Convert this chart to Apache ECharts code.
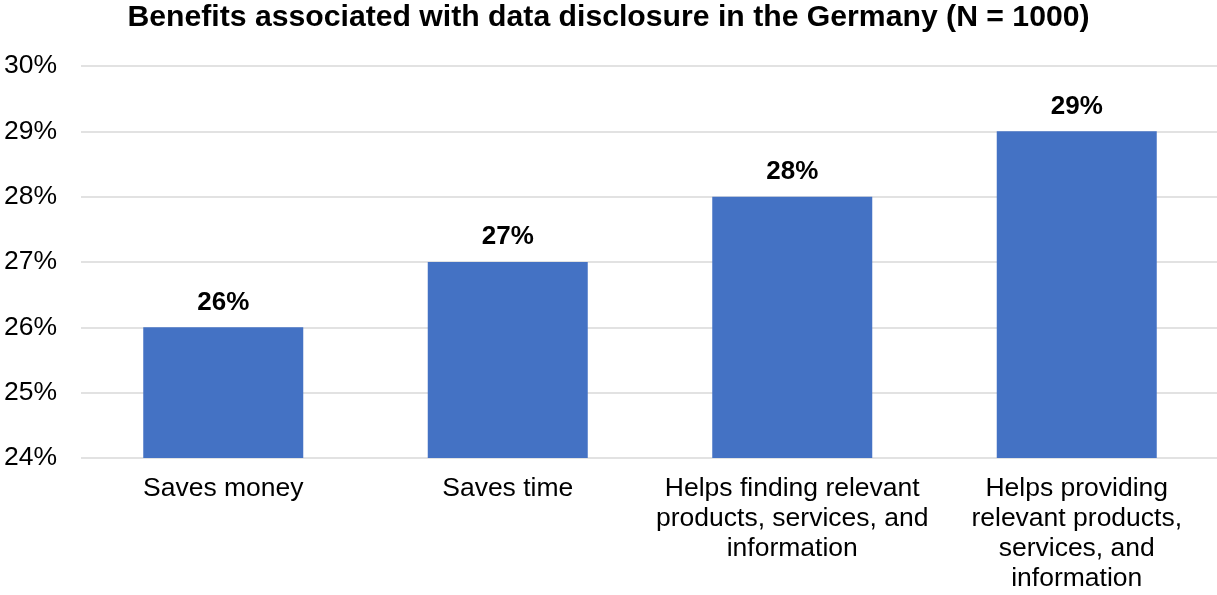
<!DOCTYPE html>
<html>
<head>
<meta charset="utf-8">
<title>Benefits associated with data disclosure</title>
<script src="https://cdn.jsdelivr.net/npm/echarts@6/dist/echarts.min.js"></script>
<style>
  html, body { margin: 0; padding: 0; background: #fff; }
  #chart { width: 1217px; height: 595px; }
</style>
</head>
<body>
<div id="chart"></div>
<script>
// Survey benefits, share of respondents (%)
const categories = [
  'Saves money',
  'Saves time',
  'Helps finding relevant\nproducts, services, and\ninformation',
  'Helps providing\nrelevant products,\nservices, and\ninformation'
];
const shares = [26, 27, 28, 29];
const yTicks = { min: 24, max: 30, interval: 1 };

const FONT = '"Liberation Sans", Arial, sans-serif';

const chart = echarts.init(document.getElementById('chart'), null, { renderer: 'canvas' });

chart.setOption({
  animation: false,
  backgroundColor: '#ffffff',
  title: {
    text: 'Benefits associated with data disclosure in the Germany (N = 1000)',
    left: 'center',
    top: 3,
    padding: [0, 0, 0, 0],
    textStyle: { fontFamily: FONT, fontSize: 30.2, fontWeight: 'bold', color: '#000' }
  },
  grid: {
    left: 81, top: 66, width: 1138, height: 392,
    containLabel: false,
    outerBoundsMode: 'none'
  },
  xAxis: {
    type: 'category',
    data: categories,
    axisLine: { show: false },
    axisTick: { show: false },
    axisLabel: {
      interval: 0,
      margin: 16,
      fontFamily: FONT,
      fontSize: 26.5,
      lineHeight: 30,
      color: '#000',
      align: 'center'
    }
  },
  yAxis: {
    type: 'value',
    min: yTicks.min,
    max: yTicks.max,
    interval: yTicks.interval,
    axisLine: { show: false },
    axisTick: { show: false },
    splitLine: { lineStyle: { color: '#d9d9d9', width: 1.5 } },
    axisLabel: {
      margin: 24,
      fontFamily: FONT,
      fontSize: 26.5,
      color: '#000',
      formatter: v => v + '%'
    }
  },
  series: [{
    type: 'bar',
    data: shares,
    barWidth: 160,
    itemStyle: { color: '#4472C4' },
    label: {
      show: true,
      position: 'top',
      distance: 12,
      fontFamily: FONT,
      fontSize: 26,
      fontWeight: 'bold',
      color: '#000',
      formatter: p => p.value + '%'
    }
  }]
});
</script>
</body>
</html>
